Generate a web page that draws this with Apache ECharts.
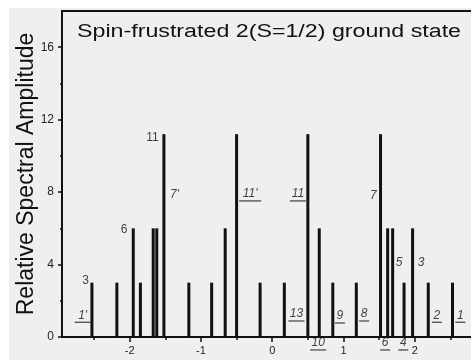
<!DOCTYPE html>
<html>
<head>
<meta charset="utf-8">
<script src="https://cdn.jsdelivr.net/npm/echarts@6/dist/echarts.min.js"></script>
<style>
  html, body { margin: 0; padding: 0; background: #fff; }
  #paper { position: absolute; left: 9px; top: 8px; width: 462px; height: 352px; background: #efefef; }
  #chart { position: absolute; left: 0; top: 0; width: 471px; height: 360px; }
</style>
</head>
<body>
<div id="paper"></div>
<div id="chart"></div>
<script>
// stick spectrum
const peakX = [-2.53, -2.18, -1.95, -1.85, -1.67, -1.62, -1.52, -1.17, -0.85, -0.66, -0.50, -0.17,
  0.17, 0.50, 0.66, 0.85, 1.18, 1.52, 1.62, 1.69, 1.85, 1.97, 2.19, 2.53]
const peakAmp = [3, 3, 6, 3, 6, 6, 11.2, 3, 3, 6, 11.2, 3,
  3, 11.2, 6, 3, 3, 11.2, 6, 6, 3, 6, 3, 3]

const xTicks = [-2, -1, 0, 1, 2, 3]
const xMinorTicks = [-2.5, -1.5, -0.5, 0.5, 1.5, 2.5]
const yTicks = [0, 4, 8, 12, 16]
const yMinorTicks = [2, 6, 10, 14]

// annotations: [x, y, text] in data units
const ampNotes = [[-2.62, 3.1, '3'], [-2.08, 5.9, '6'], [-1.68, 11.0, '11']]
const peakNotes = [[-1.37, 7.85, "7'"], [1.42, 7.8, '7'], [1.78, 4.1, '5'], [2.09, 4.1, '3']]
const underNotes = [[-2.66, 1.2, "1'"], [-0.31, 7.9, "11'"], [0.36, 7.9, '11'], [0.34, 1.27, '13'],
  [0.95, 1.16, '9'], [1.29, 1.27, '8'], [2.31, 1.2, '2'], [2.64, 1.2, '1'],
  [0.645, -0.33, '10'], [1.585, -0.33, '6'], [1.84, -0.33, '4']]

const FONT = '"Liberation Sans", Arial, sans-serif'
const chart = echarts.init(document.getElementById('chart'), null, { renderer: 'canvas' })

const noteSeries = (data, italic) => ({
  type: 'scatter',
  data,
  symbolSize: 0,
  clip: false,
  silent: true,
  label: {
    show: true,
    position: 'inside',
    formatter: p => p.data[2],
    color: '#111',
    fontFamily: FONT,
    fontSize: 12,
    fontStyle: italic ? 'italic' : 'normal',
  },
})

chart.setOption({
  animation: false,
  backgroundColor: 'transparent',
  // the source figure's title is set wide, so stretch it sideways
  graphic: [{
    type: 'text',
    x: 77,
    y: 23,
    scaleX: 1.29,
    style: {
      text: 'Spin-frustrated 2(S=1/2) ground state',
      font: '18px ' + FONT,
      fill: '#111',
    },
  }],
  grid: {
    left: 62, right: -15, top: 11, bottom: 23,
    outerBoundsMode: 'none',
    show: true, borderColor: '#111', borderWidth: 2, backgroundColor: 'transparent',
  },
  xAxis: [
    {
      type: 'value', min: -2.95, max: 3,
      axisLine: { lineStyle: { color: '#111', width: 2 } },
      axisTick: { customValues: xTicks, length: 5, lineStyle: { color: '#111', width: 1.5 } },
      axisLabel: { customValues: xTicks, color: '#222', fontFamily: FONT, fontSize: 11, margin: 8 },
      splitLine: { show: false },
    },
    {
      type: 'value', min: -2.95, max: 3, position: 'bottom',
      axisLine: { show: false },
      axisTick: { customValues: xMinorTicks, length: 3, lineStyle: { color: '#111', width: 1.5 } },
      axisLabel: { show: false },
      splitLine: { show: false },
    },
  ],
  yAxis: [
    {
      type: 'value', min: 0, max: 18,
      name: 'Relative Spectral Amplitude',
      nameLocation: 'middle',
      nameGap: 24,
      nameMoveOverlap: false,
      nameTextStyle: { fontFamily: FONT, fontSize: 23, color: '#111' },
      axisLine: { show: true, onZero: false, lineStyle: { color: '#111', width: 2 } },
      axisTick: { show: true, customValues: yTicks, length: 4, lineStyle: { color: '#111', width: 1.5 } },
      axisLabel: { customValues: yTicks, color: '#222', fontFamily: FONT, fontSize: 12, margin: 8 },
      splitLine: { show: false },
    },
    {
      type: 'value', min: 0, max: 18, position: 'left',
      axisLine: { show: false, onZero: false },
      axisTick: { show: true, customValues: yMinorTicks, length: 2, lineStyle: { color: '#111', width: 1.5 } },
      axisLabel: { show: false },
      splitLine: { show: false },
    },
  ],
  series: [
    {
      type: 'bar',
      data: peakX.map((x, i) => [x, peakAmp[i]]),
      barWidth: 3,
      barGap: '-100%',
      itemStyle: { color: '#111' },
      silent: true,
    },
    noteSeries(ampNotes, false),
    noteSeries(peakNotes, true),
    noteSeries(underNotes, true),
    {
      type: 'scatter',
      data: underNotes,
      clip: false,
      silent: true,
      symbol: 'rect',
      symbolSize: d => [d[2].length * 6 + 4, 1.2],
      symbolOffset: [0, 7],
      itemStyle: { color: '#111' },
    },
  ],
})
</script>
</body>
</html>
